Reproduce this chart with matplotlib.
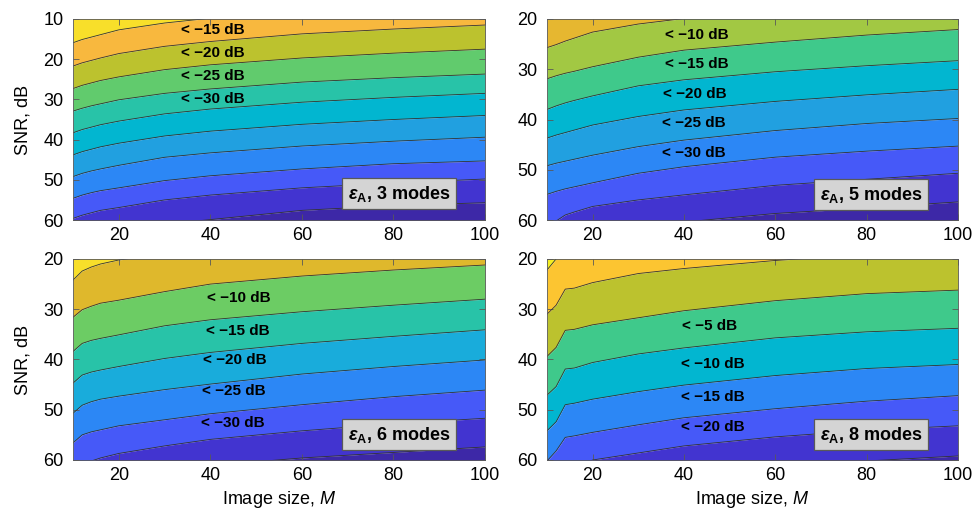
import matplotlib
matplotlib.use("Agg")
import matplotlib.pyplot as plt
import numpy as np

plt.rcParams["font.family"] = ["Liberation Sans", "DejaVu Sans"]
plt.rcParams["mathtext.fontset"] = "custom"
plt.rcParams["mathtext.rm"] = "Liberation Sans"
plt.rcParams["mathtext.it"] = "Liberation Sans:italic"
plt.rcParams["mathtext.bf"] = "Liberation Sans:bold"
plt.rcParams["mathtext.bfit"] = "Liberation Sans:bold:italic"

M_GRID = [10, 12, 14, 16, 20, 30, 40, 60, 80, 100]

# SNR (dB) of each contour line, top to bottom, per panel
LINES_3 = [
    [15.9, 15.1, 14.5, 13.9, 12.7, 11.0, 9.8, 8.0, 6.8, 5.8],
    [21.7, 20.9, 20.3, 19.7, 18.6, 16.8, 15.6, 13.7, 12.5, 11.5],
    [27.3, 26.5, 25.9, 25.3, 24.4, 22.6, 21.4, 19.7, 18.5, 17.5],
    [32.9, 32.2, 31.6, 31.1, 30.1, 28.5, 27.4, 25.7, 24.6, 23.7],
    [38.3, 37.5, 36.9, 36.3, 35.4, 33.6, 32.4, 30.7, 29.5, 28.5],
    [43.8, 43.0, 42.4, 41.8, 40.9, 39.1, 37.9, 36.2, 35.0, 34.0],
    [49.2, 48.4, 47.8, 47.3, 46.4, 44.4, 43.3, 41.6, 40.4, 39.4],
    [54.6, 53.8, 53.2, 52.7, 52.0, 50.2, 49.0, 47.3, 46.0, 45.3],
    [59.6, 58.8, 58.2, 57.6, 56.9, 55.0, 53.8, 52.0, 50.8, 49.8],
    [65.5, 64.7, 64.1, 63.5, 62.6, 61.0, 59.9, 57.6, 56.4, 55.7],
]
LINES_5 = [
    [25.7, 25.1, 24.4, 23.8, 22.6, 21.0, 19.9, 18.5, 17.5, 16.7],
    [31.9, 31.3, 30.8, 30.4, 29.5, 27.6, 26.2, 24.6, 23.2, 22.1],
    [38.0, 37.3, 36.7, 36.2, 35.3, 33.3, 32.1, 30.5, 29.3, 28.3],
    [43.7, 43.1, 42.6, 42.1, 41.1, 39.4, 38.1, 36.4, 35.1, 34.0],
    [49.2, 48.7, 48.3, 47.9, 47.1, 45.4, 44.1, 42.2, 40.8, 39.8],
    [54.9, 54.3, 53.8, 53.4, 52.6, 50.7, 49.4, 47.5, 46.3, 45.3],
    [61.0, 60.2, 59.0, 58.4, 57.3, 56.0, 55.0, 53.1, 51.9, 50.7],
    [66.0, 65.3, 64.7, 64.2, 63.3, 61.5, 60.4, 58.7, 57.6, 56.4],
]
LINES_6 = [
    [24.2, 22.4, 21.6, 21.0, 20.2, 19.0, 18.0, 16.6, 15.6, 14.9],
    [31.6, 30.1, 29.4, 28.8, 28.2, 26.5, 25.0, 23.4, 22.2, 21.2],
    [38.4, 36.8, 36.2, 35.8, 35.1, 33.3, 32.1, 30.5, 29.2, 28.0],
    [44.7, 43.1, 42.5, 42.1, 41.4, 39.8, 38.6, 36.8, 35.4, 34.1],
    [50.7, 49.1, 48.4, 47.9, 47.3, 46.0, 44.9, 42.9, 41.4, 40.1],
    [56.6, 55.0, 54.4, 54.0, 53.2, 52.0, 50.8, 49.0, 47.4, 46.1],
    [62.5, 61.0, 60.2, 59.6, 58.7, 57.2, 55.9, 54.2, 52.8, 51.7],
    [67.0, 66.0, 65.0, 64.5, 63.8, 62.3, 61.1, 59.6, 58.5, 57.4],
]
LINES_8 = [
    [22.2, 20.0, 18.5, 18.0, 17.0, 15.5, 14.5, 13.0, 12.0, 11.0],
    [31.0, 29.2, 26.0, 25.8, 24.7, 22.9, 21.9, 20.3, 19.1, 18.2],
    [39.4, 37.6, 34.2, 34.0, 33.1, 31.7, 30.3, 28.3, 26.9, 26.2],
    [47.1, 45.4, 41.9, 41.7, 40.6, 38.9, 37.7, 35.7, 34.5, 33.8],
    [54.2, 52.4, 49.0, 48.7, 47.9, 46.4, 45.1, 43.2, 41.8, 41.0],
    [60.2, 58.2, 55.5, 55.2, 54.5, 53.0, 51.6, 49.8, 48.3, 47.2],
    [65.0, 63.5, 62.0, 61.5, 60.0, 58.6, 57.2, 55.4, 54.1, 53.2],
    [70.0, 69.0, 68.0, 67.5, 66.5, 64.5, 63.3, 61.5, 60.2, 59.2],
]

# band labels: (M, SNR, text)
LABELS_3 = [(40.6, 12.7, "−15"), (40.6, 18.5, "−20"), (40.6, 24.2, "−25"), (40.6, 29.8, "−30")]
LABELS_5 = [(42.8, 23.2, "−10"), (42.8, 29.0, "−15"), (42.4, 35.0, "−20"),
            (42.1, 40.6, "−25"), (42.2, 46.6, "−30")]
LABELS_6 = [(46.3, 27.8, "−10"), (45.9, 34.3, "−15"), (45.4, 40.2, "−20"),
            (45.2, 46.2, "−25"), (44.8, 52.7, "−30")]
LABELS_8 = [(45.7, 33.3, "−5"), (46.4, 40.9, "−10"), (46.4, 47.4, "−15"), (46.4, 53.4, "−20")]

MODES = [3, 5, 6, 8]
YLIMS = [(10, 60), (20, 60), (20, 60), (20, 60)]
BOX_POS = [(81.2, 53.5), (81.0, 55.0), (81.2, 55.0), (81.0, 55.0)]

# parula-like band colours, top to bottom
C = {
    "yellow": "#f8df2a", "yellow2": "#f4ee22", "orange": "#f8b83e", "gold": "#e6b730",
    "gold2": "#dfb82c", "gold3": "#fcc531", "olive": "#bcc22e", "olive2": "#a2c843",
    "green": "#61cb6d", "green2": "#3fc98b", "green3": "#6ccc64", "teal": "#28c3a8",
    "cyan": "#02b6d0", "cyan2": "#19acdb", "lblue": "#21a0e0", "blue": "#2c87f5",
    "royal": "#4659f8", "violet": "#4234d0", "dark": "#3d28a7",
}
BANDS = [
    ["yellow", "orange", "olive", "green", "teal", "cyan", "lblue", "blue", "royal", "violet", "dark"],
    ["gold", "olive2", "green2", "cyan", "lblue", "blue", "royal", "violet", "dark"],
    ["yellow", "gold2", "green3", "teal", "cyan2", "blue", "royal", "violet", "dark"],
    ["yellow2", "gold3", "olive", "green2", "cyan", "blue", "royal", "violet", "dark"],
]

fig = plt.figure(figsize=(9.75, 5.12), dpi=100)
rects = [
    [0.0749, 0.5703, 0.4226, 0.3926],
    [0.5610, 0.5703, 0.4215, 0.3926],
    [0.0749, 0.1016, 0.4226, 0.3926],
    [0.5610, 0.1016, 0.4215, 0.3926],
]

m = np.array(M_GRID, dtype=float)
for i, (lines, labels) in enumerate(zip([LINES_3, LINES_5, LINES_6, LINES_8],
                                        [LABELS_3, LABELS_5, LABELS_6, LABELS_8])):
    ax = fig.add_axes(rects[i])
    bounds = [np.full_like(m, -10.0)] + [np.array(l) for l in lines] + [np.full_like(m, 100.0)]
    for k, name in enumerate(BANDS[i]):
        ax.fill_between(m, bounds[k], bounds[k + 1], color=C[name], linewidth=0)
    for l in lines:
        ax.plot(m, l, color="0.2", lw=0.6)

    for x, y, t in labels:
        ax.text(x, y, "< " + t + " dB", ha="center", va="center",
                fontsize=11, fontweight="bold", color="black")

    bx, by = BOX_POS[i]
    ax.text(bx, by, r"$\mathbfit{\varepsilon}_{\mathbf{A}}$, %d modes" % MODES[i],
            ha="center", va="center", fontsize=13, fontweight="bold",
            bbox=dict(boxstyle="square,pad=0.3", facecolor="#d4d4d4", edgecolor="0.35", lw=0.9))

    ax.set_xlim(10, 100)
    ax.set_ylim(YLIMS[i][1], YLIMS[i][0])
    ax.set_xticks([20, 40, 60, 80, 100])
    ax.set_yticks(np.arange(YLIMS[i][0], 61, 10))
    ax.tick_params(direction="in", top=True, right=True, length=4, width=0.6,
                   color="0.35", labelsize=13, pad=5)
    ax.tick_params(axis="y", pad=7)
    for s in ax.spines.values():
        s.set_color("0.35")
        s.set_linewidth(0.6)
    if i % 2 == 0:
        ax.set_ylabel("SNR, dB", fontsize=13, labelpad=8)
    if i >= 2:
        ax.set_xlabel(r"Image size, $M$", fontsize=13, labelpad=4)

fig.savefig("out.png", dpi=100)
